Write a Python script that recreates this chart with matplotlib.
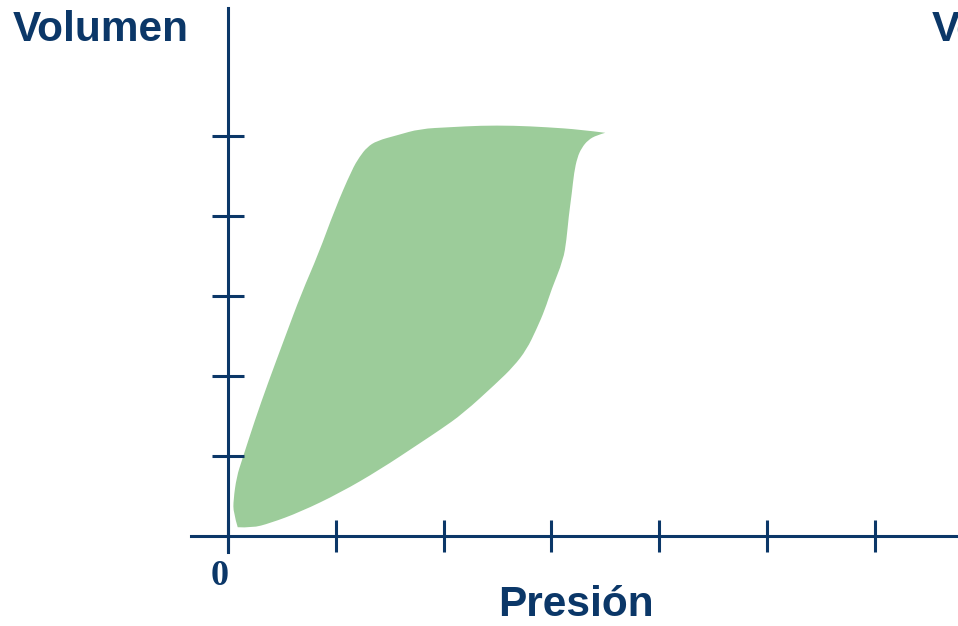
import matplotlib
matplotlib.use("Agg")
import matplotlib.pyplot as plt
from matplotlib.patches import PathPatch
from matplotlib.path import Path

NAVY = "#0b3768"
GREEN = "#9ccc9a"

# Pressure / volume tick positions (unlabelled except the origin)
x_ticks = [0, 1, 2, 3, 4, 5, 6]
y_ticks = [1, 2, 3, 4, 5]

# Inflation limb (pressure, volume), bottom to top
infl_p = [0.09, 0.05, 0.05, 0.08, 0.13, 0.25, 0.37, 0.53, 0.68, 0.84, 0.99, 1.15,
          1.22, 1.29, 1.38, 1.57, 1.78, 2.06, 2.34, 2.65, 2.96, 3.27, 3.50]
infl_v = [0.11, 0.29, 0.45, 0.74, 0.95, 1.45, 1.91, 2.49, 3.03, 3.53, 4.08, 4.58,
          4.74, 4.86, 4.94, 5.01, 5.09, 5.11, 5.13, 5.13, 5.11, 5.08, 5.04]

# Deflation limb (pressure, volume), top to bottom
defl_p = [3.42, 3.34, 3.28, 3.24, 3.21, 3.19, 3.16, 3.14, 3.11, 3.00, 2.94, 2.86,
          2.77, 2.65, 2.49, 2.18, 1.97, 1.78, 1.41, 1.04, 0.67, 0.39, 0.22]
defl_v = [5.01, 4.95, 4.85, 4.73, 4.54, 4.29, 3.99, 3.70, 3.45, 3.08, 2.83, 2.58,
          2.33, 2.12, 1.91, 1.53, 1.33, 1.16, 0.83, 0.54, 0.30, 0.16, 0.10]


def smooth_segment(pts):
    """Open curve from pts[0] to pts[-1], inner points used as Bezier controls."""
    mid = lambda a, b: ((a[0] + b[0]) / 2, (a[1] + b[1]) / 2)
    verts, codes = [], []
    for i in range(1, len(pts) - 2):
        verts += [pts[i], mid(pts[i], pts[i + 1])]
        codes += [Path.CURVE3, Path.CURVE3]
    verts += [pts[-2], pts[-1]]
    codes += [Path.CURVE3, Path.CURVE3]
    return verts, codes


up = list(zip(infl_p, infl_v))
down = [up[-1]] + list(zip(defl_p, defl_v)) + [up[0]]

v1, c1 = smooth_segment(up)
v2, c2 = smooth_segment(down)
verts = [up[0]] + v1 + v2 + [up[0]]
codes = [Path.MOVETO] + c1 + c2 + [Path.CLOSEPOLY]

fig = plt.figure(figsize=(9.58, 6.26), dpi=100)
ax = fig.add_axes([0, 0, 1, 1])
ax.set_xlim(-228 / 107.8, (958 - 228) / 107.8)
ax.set_ylim(-90 / 80, 536 / 80)

ax.add_patch(PathPatch(Path(verts, codes), facecolor=GREEN, edgecolor="none",
                       zorder=1))

# Axes crossing at the origin
for side in ("top", "right"):
    ax.spines[side].set_visible(False)
ax.spines["left"].set_position(("data", 0))
ax.spines["bottom"].set_position(("data", 0))
ax.spines["left"].set_bounds(-0.2, 6.6)
ax.spines["bottom"].set_bounds(-0.343, 7.0)
for side in ("left", "bottom"):
    ax.spines[side].set_color(NAVY)
    ax.spines[side].set_linewidth(2.2)
    ax.spines[side].set_zorder(3)

ax.set_xticks(x_ticks)
ax.set_yticks(y_ticks)
ax.tick_params(axis="both", direction="inout", length=23, width=2.2, color=NAVY,
               labelbottom=False, labelleft=False)

ax.text(-0.08, -0.3, "0", ha="center", va="top", fontsize=26, fontweight="bold",
        family="Liberation Serif", color=NAVY)

fig.text(13 / 958, 1 - 30 / 626, "Volumen", ha="left", va="center", fontsize=30.5,
         fontweight="bold", family="Liberation Sans", color=NAVY)
fig.text(932 / 958, 1 - 30 / 626, "Volumen", ha="left", va="center", fontsize=30.5,
         fontweight="bold", family="Liberation Sans", color=NAVY)
fig.text(576 / 958, 1 - 605 / 626, "Presión", ha="center", va="center", fontsize=30.5,
         fontweight="bold", family="Liberation Sans", color=NAVY)

fig.savefig("out.png", dpi=100)
